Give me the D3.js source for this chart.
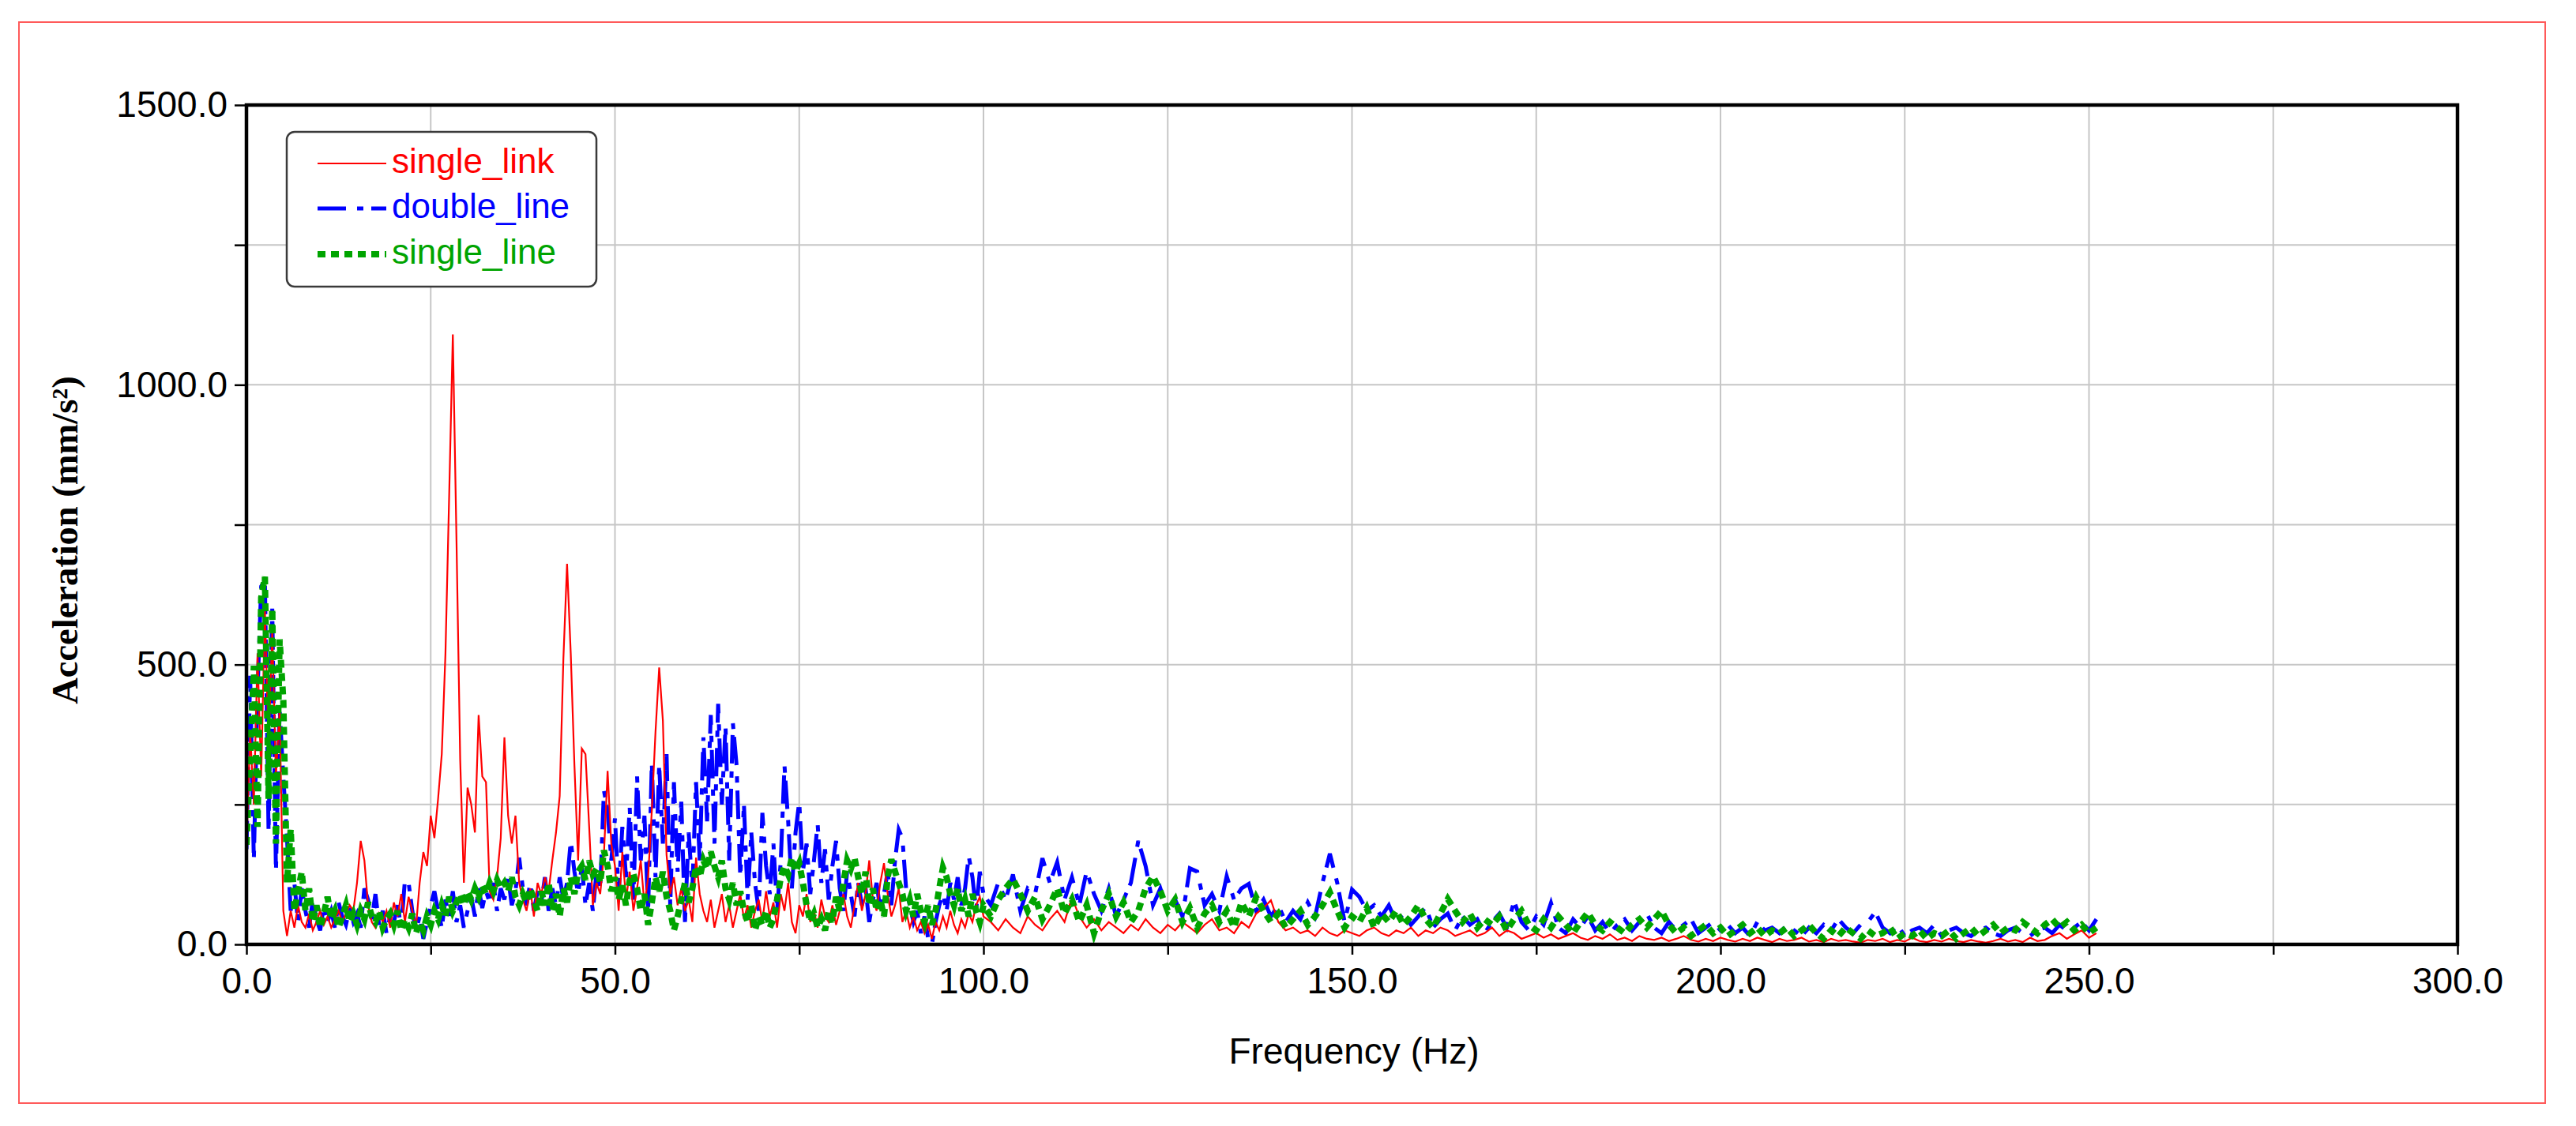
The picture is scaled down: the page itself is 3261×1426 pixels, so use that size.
<!DOCTYPE html>
<html><head><meta charset="utf-8">
<script src="https://cdn.jsdelivr.net/npm/d3@7"></script>
<style>body{margin:0;background:#fff;} svg{display:block}</style>
</head><body>
<svg id="chart" width="3261" height="1426"></svg>
<script>
// ---- DATA ----
// low band: 0 .. 100 Hz every 0.5 Hz ; high band: 101 .. 251 Hz every 1 Hz
const lowStep = 0.5;
const highStart = 101, highStep = 1;

const seriesNames = ["single_link", "double_line", "single_line"];

const singleLinkLow = [
170,380,250,520,300,600,350,560,300,420, 60,15,60,30,70,40,30,55,25,40,
60,35,50,30,45,60,40,55,70,60, 110,185,150,70,40,30,55,40,60,30,
75,50,90,40,85,60,30,110,165,140, 230,190,260,340,520,800,1090,720,330,110,
280,250,200,410,300,290,95,80,120,190, 370,230,180,230,110,80,60,100,50,110,
90,120,95,150,200,265,510,680,520,320, 150,350,340,210,70,110,90,160,310,180,
140,60,165,80,130,60,100,150,70,120, 240,380,495,400,160,90,120,70,100,60,
80,40,155,90,60,40,80,30,60,90, 40,70,30,60,90,45,70,30,60,80,
40,95,50,75,30,90,60,110,40,20, 70,50,90,40,60,30,80,50,40,70,
35,60,90,50,30,70,110,60,90,150, 80,60,110,145,90,50,70,100,40,60,
30,50,25,40,20,35,10,40,25,50, 30,60,35,20,45,30,55,40,70,85,
50];
const singleLinkHigh = [
40,25,45,30,20,50,35,25,45,60,
40,84,50,30,45,25,40,30,20,35,
25,45,30,20,35,25,40,30,20,35,
45,25,30,20,40,30,55,65,79,40,
25,30,20,25,15,30,20,15,25,20,
15,25,30,20,15,25,20,30,15,25,
20,30,25,15,20,25,15,20,30,15,
25,20,10,15,20,12,18,10,15,20,
12,8,15,10,18,8,12,6,15,10,
8,12,6,10,15,8,5,10,6,12,
8,5,10,6,12,8,4,10,6,8,
12,5,8,4,10,6,8,5,3,8,
6,10,4,8,5,12,6,4,8,5,
10,6,4,8,5,3,6,10,5,8,
4,12,6,8,15,20,10,18,25,12,20];

const doubleLineLow = [
170,480,150,450,640,650,200,600,130,420, 300,190,60,110,40,100,60,30,80,45,
25,70,40,60,30,75,50,35,65,40, 55,30,100,80,45,90,35,60,20,50,
40,70,30,115,110,60,25,50,10,40, 70,95,60,30,80,50,95,40,70,30,
60,85,50,100,65,95,75,110,60,100, 80,120,70,95,155,100,70,110,60,95,
75,120,60,100,70,120,80,110,185,130, 90,140,70,110,60,130,100,275,240,150,
225,90,210,120,245,80,300,150,230,60, 325,120,320,180,340,70,290,130,255,40,
200,100,290,150,370,220,410,180,430,250, 390,150,395,320,120,250,80,200,110,60,
235,140,90,180,60,150,320,220,100,200, 255,130,180,90,150,215,110,170,80,140,
185,100,60,130,90,50,110,70,100,40, 80,110,60,90,130,70,150,205,190,100,
70,40,60,20,50,10,0,40,70,90, 60,110,80,120,70,100,158,120,60,130,
90];
const doubleLineHigh = [
70,110,80,125,60,100,90,154,110,147,
80,120,70,131,90,60,100,50,80,110,
185,140,70,100,60,80,50,136,130,70,
90,60,122,80,100,108,60,80,50,70,
40,60,45,75,50,110,162,110,40,98,
85,60,70,50,70,40,55,35,50,67,
30,45,55,25,50,35,45,20,40,55,
30,77,40,25,50,35,74,30,20,45,
30,50,25,40,20,35,45,25,40,55,
30,20,40,25,35,45,20,30,40,25,
35,20,30,15,40,25,30,20,35,25,
15,30,20,35,25,45,30,20,35,40,
58,30,20,35,15,25,30,20,35,15,
25,30,20,15,25,30,20,15,25,30,
20,15,25,30,20,35,25,30,40,25,45];

const singleLineLow = [
178,330,498,210,620,657,260,600,180,545, 436,110,206,60,95,130,60,100,40,70,
30,55,85,45,60,30,50,70,40,55, 35,60,45,75,50,40,60,30,45,55,
35,60,25,45,30,55,20,40,25,50, 35,60,45,70,50,85,60,75,90,70,
95,80,100,85,105,90,110,95,115,100, 110,95,120,85,70,90,75,100,80,60,
95,70,110,60,90,50,100,75,120,90, 130,140,115,150,125,135,110,168,140,95,
120,80,105,70,115,126,100,60,90,35, 75,120,95,130,85,60,25,50,80,110,
75,100,140,120,150,135,166,140,120,150, 100,80,110,70,95,60,40,70,25,50,
35,60,30,45,80,120,140,125,155,130, 145,110,70,40,55,30,45,25,60,40,
85,60,110,150,135,155,120,90,130,70, 100,60,80,50,120,152,130,110,90,60,
80,50,90,60,40,70,35,60,100,137, 120,90,70,100,60,80,50,90,60,40,
70];
const singleLineHigh = [
50,80,100,117,90,60,85,45,70,100,
55,80,40,70,20,60,90,50,75,40,
60,100,122,95,60,80,40,65,30,55,
70,40,60,30,75,50,84,60,40,55,
30,45,60,35,50,70,93,60,30,50,
40,65,30,55,40,60,35,50,70,45,
30,55,81,60,40,55,30,45,35,50,
25,45,60,35,25,45,30,50,35,20,
40,57,35,25,40,30,20,35,45,30,
45,60,35,20,30,15,25,35,20,30,
15,25,35,20,30,15,25,20,30,15,
25,35,20,10,25,15,30,20,10,25,
15,20,30,10,20,15,25,10,20,15,
25,10,20,30,15,25,35,20,30,25,
40,30,20,35,45,30,40,25,35,20,30];

const xTickValues = [0,25,50,75,100,125,150,175,200,225,250,275,300];
const xTickLabels = {0:"0.0",50:"50.0",100:"100.0",150:"150.0",200:"200.0",250:"250.0",300:"300.0"};
const yTickValues = [0,250,500,750,1000,1250,1500];
const yTickLabels = {0:"0.0",500:"500.0",1000:"1000.0",1500:"1500.0"};

// ---- LAYOUT ----
const W = 3261, H = 1426;
const plot = {left: 312, right: 3111, top: 133, bottom: 1196};
const svg = d3.select("#chart");

svg.append("rect").attr("x",0).attr("y",0).attr("width",W).attr("height",H).attr("fill","#fff");
svg.append("rect").attr("x",24).attr("y",28).attr("width",3198).attr("height",1369)
   .attr("fill","none").attr("stroke","#ff5a5a").attr("stroke-width",2);

const x = d3.scaleLinear().domain([0,300]).range([plot.left, plot.right]);
const y = d3.scaleLinear().domain([0,1500]).range([plot.bottom, plot.top]);

function build(low, high){
  return low.map((v,i)=>({f:i*lowStep, v:v}))
    .concat(high.map((v,i)=>({f:highStart + i*highStep, v:v})));
}
const data = {
  single_link: build(singleLinkLow, singleLinkHigh),
  double_line: build(doubleLineLow, doubleLineHigh),
  single_line: build(singleLineLow, singleLineHigh)
};

// grid
const grid = svg.append("g");
grid.selectAll("line.v").data(xTickValues.filter(d=>d>0 && d<300)).enter().append("line")
  .attr("x1",d=>x(d)).attr("x2",d=>x(d)).attr("y1",plot.top).attr("y2",plot.bottom)
  .attr("stroke","#c6c6c6").attr("stroke-width",2);
grid.selectAll("line.h").data(yTickValues.filter(d=>d>0 && d<1500)).enter().append("line")
  .attr("y1",d=>y(d)).attr("y2",d=>y(d)).attr("x1",plot.left).attr("x2",plot.right)
  .attr("stroke","#c6c6c6").attr("stroke-width",2);

// clip
svg.append("clipPath").attr("id","clip").append("rect")
  .attr("x",plot.left).attr("y",plot.top).attr("width",plot.right-plot.left).attr("height",plot.bottom-plot.top);

const line = d3.line().x(d=>x(d.f)).y(d=>y(d.v));
const styles = {
  single_link: {color:"#ff0000", width:2.2, dash:null},
  double_line: {color:"#0000ff", width:5, dash:"36,14,8,10"},
  single_line: {color:"#00a400", width:8, dash:"10,7"}
};
const lines = svg.append("g").attr("clip-path","url(#clip)");
["double_line","single_link","single_line"].forEach(k=>{
  const s = styles[k];
  lines.append("path").datum(data[k]).attr("d",line)
    .attr("fill","none").attr("stroke",s.color).attr("stroke-width",s.width)
    .attr("stroke-dasharray",s.dash).attr("stroke-linejoin","miter").attr("stroke-linecap","butt");
});

// frame
svg.append("rect").attr("x",plot.left).attr("y",plot.top)
  .attr("width",plot.right-plot.left).attr("height",plot.bottom-plot.top)
  .attr("fill","none").attr("stroke","#000").attr("stroke-width",4.5);

// axes
const fontSans = "'Liberation Sans', Arial, sans-serif";
const xAxis = d3.axisBottom(x).tickValues(xTickValues).tickSize(13).tickPadding(16)
  .tickFormat(d => xTickLabels[d] || "");
const gx = svg.append("g").attr("transform",`translate(0,${plot.bottom})`).call(xAxis);
gx.select(".domain").remove();
gx.selectAll(".tick line").attr("stroke","#000").attr("stroke-width",2.5);
gx.selectAll("text").attr("font-family",fontSans).attr("font-size",46).attr("fill","#000");

const yAxis = d3.axisLeft(y).tickValues(yTickValues).tickSize(15).tickPadding(9)
  .tickFormat(d => yTickLabels[d] || "");
const gy = svg.append("g").attr("transform",`translate(${plot.left},0)`).call(yAxis);
gy.select(".domain").remove();
gy.selectAll(".tick line").attr("stroke","#000").attr("stroke-width",2.5);
gy.selectAll("text").attr("font-family",fontSans).attr("font-size",46).attr("fill","#000");

// axis titles
svg.append("text").attr("x",1714).attr("y",1347).attr("text-anchor","middle")
  .attr("font-family",fontSans).attr("font-size",46).attr("fill","#000").text("Frequency (Hz)");
svg.append("text").attr("transform","translate(82,684) rotate(-90)").attr("text-anchor","middle")
  .attr("dy","0.35em").attr("font-family","'Liberation Serif', 'Times New Roman', serif")
  .attr("font-weight","bold").attr("font-size",46.5).attr("fill","#000").text("Acceleration (mm/s²)");

// legend
const lg = svg.append("g");
lg.append("rect").attr("x",363).attr("y",167).attr("width",392).attr("height",196).attr("rx",10)
  .attr("fill","#fff").attr("stroke","#3a3a3a").attr("stroke-width",2.5);
const legendRows = [207, 264, 322];
const textColors = {single_link:"#ff0000", double_line:"#0000ff", single_line:"#00a400"};
seriesNames.forEach((k,i)=>{
  const s = styles[k];
  lg.append("line").attr("x1",402).attr("x2",489).attr("y1",legendRows[i]).attr("y2",legendRows[i])
    .attr("stroke",s.color).attr("stroke-width",s.width).attr("stroke-dasharray",s.dash);
  lg.append("text").attr("x",496).attr("y",legendRows[i]+12).attr("font-family",fontSans)
    .attr("font-size",44).attr("fill",textColors[k]).text(k);
});
</script>
</body></html>
